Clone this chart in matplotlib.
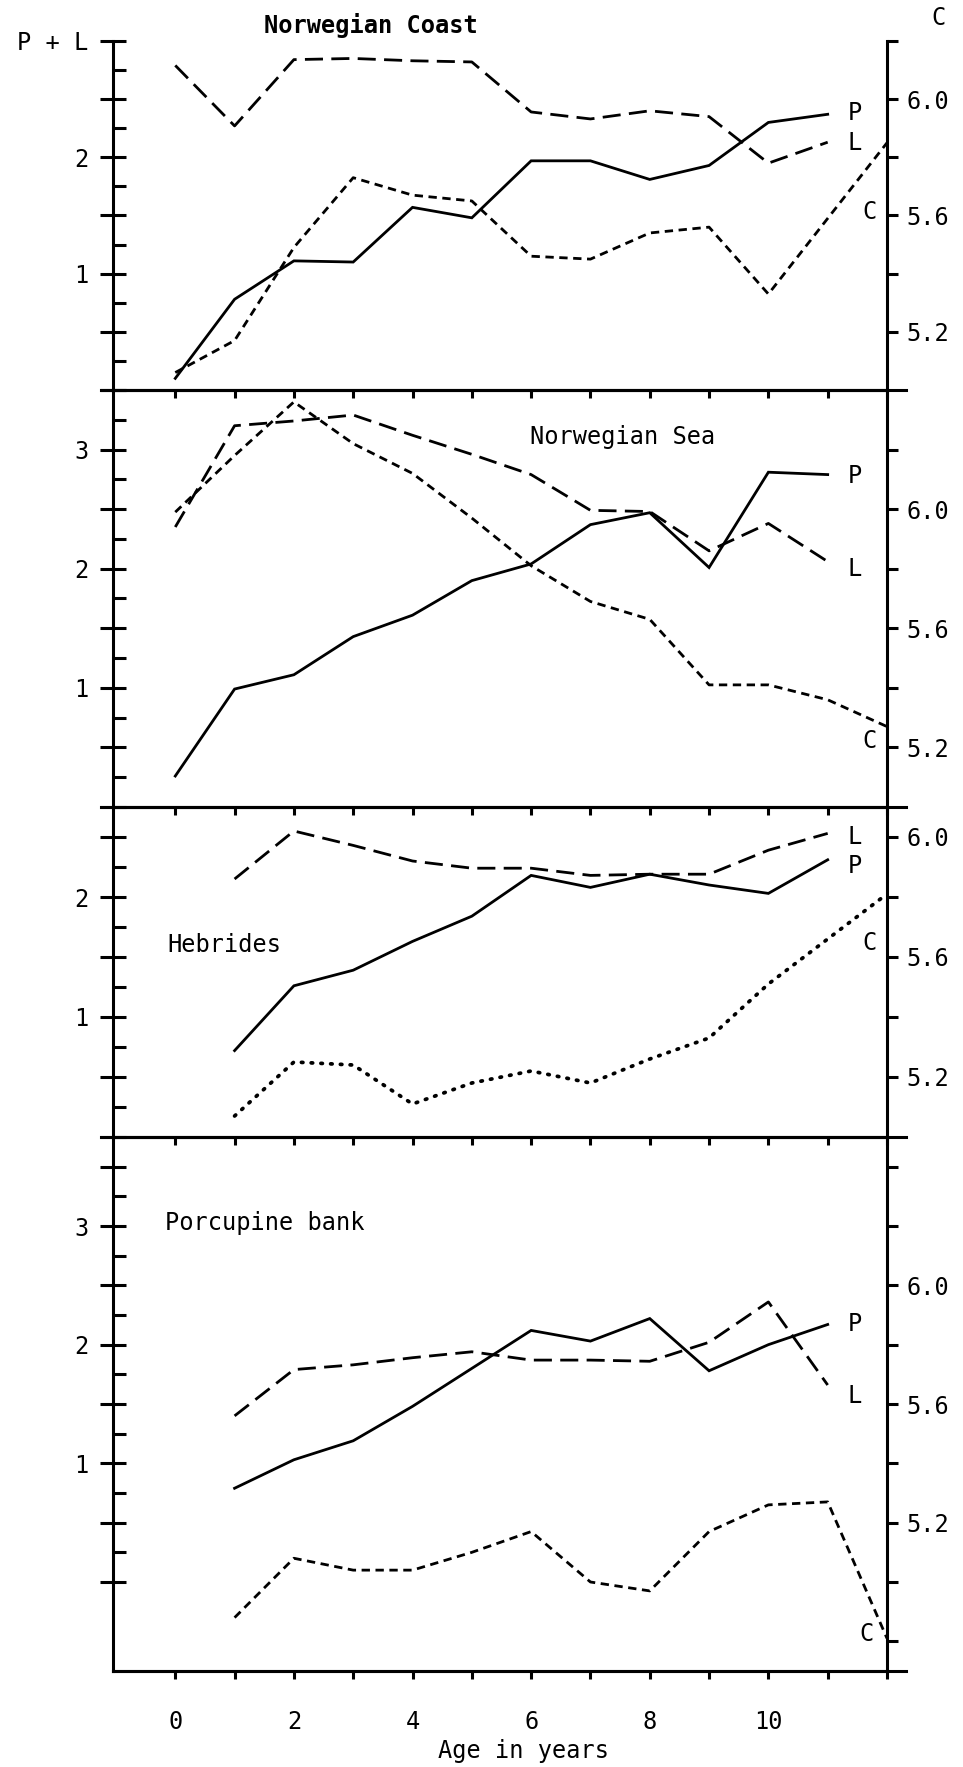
import numpy as np
import matplotlib
matplotlib.use("Agg")
import matplotlib.pyplot as plt

plt.rcParams['font.family'] = ['DejaVu Sans Mono', 'DejaVu Sans']
plt.rcParams['font.size'] = 17

# ages (years)
age_pl_nc = [0, 1, 2, 3, 4, 5, 6, 7, 8, 9, 10, 11]
age_c_nc = [0, 1, 2, 3, 4, 5, 6, 7, 8, 9, 10, 12]
age_c_ns = [0, 1, 2, 3, 4, 5, 6, 7, 8, 9, 10, 11, 12]
age_pl_late = [1, 2, 3, 4, 5, 6, 7, 8, 9, 10, 11]
age_c_late = [1, 2, 3, 4, 5, 6, 7, 8, 9, 10, 11, 12]

# Norwegian Coast
nc_P = [0.10, 0.78, 1.11, 1.10, 1.57, 1.48, 1.97, 1.97, 1.81, 1.93, 2.30, 2.37]
nc_L = [2.79, 2.27, 2.84, 2.85, 2.83, 2.82, 2.39, 2.33, 2.40, 2.35, 1.95, 2.13]
nc_C = [5.06, 5.17, 5.49, 5.73, 5.67, 5.65, 5.46, 5.45, 5.54, 5.56, 5.33, 5.85]

# Norwegian Sea
ns_P = [0.26, 0.99, 1.11, 1.43, 1.61, 1.90, 2.04, 2.37, 2.47, 2.01, 2.81, 2.79]
ns_L = [2.35, 3.20, 3.24, 3.29, 3.12, 2.96, 2.79, 2.49, 2.48, 2.15, 2.38, 2.06]
ns_C = [5.99, 6.18, 6.36, 6.22, 6.12, 5.97, 5.81, 5.69, 5.63, 5.41, 5.41, 5.36, 5.27]

# Hebrides
hb_P = [0.72, 1.26, 1.39, 1.63, 1.84, 2.18, 2.08, 2.19, 2.10, 2.03, 2.31]
hb_L = [2.15, 2.55, 2.43, 2.30, 2.24, 2.24, 2.18, 2.19, 2.19, 2.39, 2.53]
hb_C = [5.07, 5.25, 5.24, 5.11, 5.18, 5.22, 5.18, 5.26, 5.33, 5.51, 5.66, 5.81]

# Porcupine bank
pb_P = [0.79, 1.03, 1.19, 1.48, 1.80, 2.12, 2.03, 2.22, 1.78, 2.00, 2.17]
pb_L = [1.40, 1.79, 1.83, 1.89, 1.94, 1.87, 1.87, 1.86, 2.02, 2.36, 1.66]
pb_C = [4.88, 5.08, 5.04, 5.04, 5.10, 5.17, 5.00, 4.97, 5.17, 5.26, 5.27, 4.81]

W, H = 963, 1767
fig = plt.figure(figsize=(W / 100, H / 100), dpi=100)


def fx(px):
    return px / W


def fy(py):
    return 1 - py / H


def rect(top, bot):
    return [fx(113), fy(bot), 774 / W, (bot - top) / H]


LW = 2.0
SPW = 2.2
L_DASH = (0, (6.5, 3))
C_DASH = (0, (3, 2))
C_DOT = (0, (0.4, 2.2))

panels = [
    dict(box=(41, 390), yl=(0, 3.0), yr=(5.0, 6.2), rt=np.arange(5.2, 6.21, 0.2),
         xP=age_pl_nc, P=nc_P, xL=age_pl_nc, L=nc_L, xC=age_c_nc, C=nc_C, cs=C_DASH,
         lab=[('P', 11.45, 2.38), ('L', 11.45, 2.12), ('C', 11.7, 1.53)], topspine=False,
         ylab={3.0: 'P + L'}),
    dict(box=(390, 807), yl=(0, 3.5), yr=(5.0, 6.4), rt=np.arange(5.2, 6.21, 0.2),
         xP=age_pl_nc, P=ns_P, xL=age_pl_nc, L=ns_L, xC=age_c_ns, C=ns_C, cs=C_DASH,
         lab=[('P', 11.45, 2.78), ('L', 11.45, 2.0), ('C', 11.7, 0.55)], topspine=True,
         ylab={}),
    dict(box=(807, 1137), yl=(0, 2.75), yr=(5.0, 6.1), rt=np.arange(5.2, 6.01, 0.2),
         xP=age_pl_late, P=hb_P, xL=age_pl_late, L=hb_L, xC=age_c_late, C=hb_C, cs=C_DOT,
         lab=[('L', 11.45, 2.50), ('P', 11.45, 2.26), ('C', 11.7, 1.62)], topspine=True,
         ylab={}),
    dict(box=(1137, 1671), yl=(-0.75, 3.75), yr=(4.7, 6.5), rt=np.arange(4.8, 6.41, 0.2),
         xP=age_pl_late, P=pb_P, xL=age_pl_late, L=pb_L, xC=age_c_late, C=pb_C, cs=C_DASH,
         lab=[('P', 11.45, 2.17), ('L', 11.45, 1.57), ('C', 11.65, -0.44)], topspine=True,
         ylab={}),
]

for i, p in enumerate(panels):
    last = i == len(panels) - 1
    ax = fig.add_axes(rect(*p['box']))
    ax.set_facecolor('none')
    ax.set_xlim(-1.05, 12)
    ax.set_ylim(*p['yl'])
    ax2 = ax.twinx()
    ax2.set_ylim(*p['yr'])

    ax.plot(p['xP'], p['P'], color='k', lw=LW, solid_joinstyle='miter')
    ax.plot(p['xL'], p['L'], color='k', lw=LW, linestyle=L_DASH)
    dotted = p['cs'] == C_DOT
    ax2.plot(p['xC'], p['C'], color='k', lw=LW + (0.7 if dotted else 0),
             linestyle=p['cs'], dash_capstyle='round' if dotted else 'butt')

    for s, x, y in p['lab']:
        ax.text(x, y, s, ha='center', va='center')

    # spines
    for a in (ax, ax2):
        for sp in a.spines.values():
            sp.set_linewidth(SPW)
    ax.spines['right'].set_visible(False)
    ax2.spines['left'].set_visible(False)
    ax2.spines['bottom'].set_visible(False)
    ax2.spines['top'].set_visible(False)
    ax.spines['top'].set_visible(p['topspine'])

    # left ticks: halves cross the axis, quarters point inward
    lo = max(p['yl'][0], 0)
    majors = [m for m in np.arange(lo, p['yl'][1] + 1e-6, 0.5)]
    labels = []
    for m in majors:
        if m in p['ylab']:
            labels.append(p['ylab'][m])
        elif abs(m - round(m)) < 1e-6 and m > 0:
            labels.append(str(int(round(m))))
        else:
            labels.append('')
    ax.set_yticks(majors)
    ax.set_yticklabels(labels)
    minors = [m + 0.25 for m in majors if m + 0.25 < p['yl'][1] - 0.01]
    ax.set_yticks(minors, minor=True)
    ax.tick_params(axis='y', which='major', direction='inout', length=19, width=SPW, pad=8)
    ax.tick_params(axis='y', which='minor', direction='in', length=9, width=SPW)

    # right ticks
    ax2.set_yticks(p['rt'])
    ax2.set_yticklabels(['%.1f' % v if round(v, 1) in (5.2, 5.6, 6.0) else '' for v in p['rt']])
    ax2.tick_params(axis='y', direction='out', length=8, width=SPW, pad=6)

    # x ticks
    ax.set_xticks(range(13))
    if last:
        ax.set_xticklabels([str(a) if a % 2 == 0 and a <= 10 else '' for a in range(13)])
    else:
        ax.set_xticklabels([''] * 13)
    ax.tick_params(axis='x', direction='out', length=6, width=SPW, pad=22)

    # horizontal rule extensions beyond the frame
    x0 = 0 if last else -0.016
    ax.plot([x0, 1.024], [0, 0], transform=ax.transAxes, color='k', lw=SPW, clip_on=False)

fig.text(fx(371), fy(25), 'Norwegian Coast', ha='center', va='center', fontweight='bold')
fig.text(fx(623), fy(437), 'Norwegian Sea', ha='center', va='center')
fig.text(fx(167), fy(945), 'Hebrides', ha='left', va='center')
fig.text(fx(165), fy(1223), 'Porcupine bank', ha='left', va='center')
fig.text(fx(938), fy(18), 'C', ha='center', va='center')
fig.text(fx(523), fy(1751), 'Age in years', ha='center', va='center')

fig.savefig('out.png', dpi=100)
